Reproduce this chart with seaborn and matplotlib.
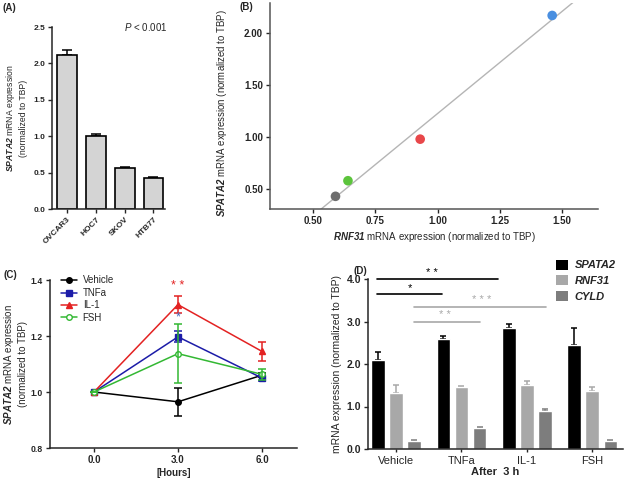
#!/usr/bin/env python3
"""Four-panel SPATA2 expression figure (A-D)."""
import matplotlib
matplotlib.use('Agg')
import matplotlib.pyplot as plt
from matplotlib.patches import Patch
import seaborn as sns
import numpy as np
import pandas as pd

# --- (A) cell lines
lines_a = ["OVCAR3", "HOC7", "SKOV", "HTB77"]
spata2_a = [2.11, 1.00, 0.57, 0.43]
err_a = [0.08, 0.03, 0.01, 0.01]

# --- (B) SPATA2 vs RNF31
rnf31_b = [1.46, 0.93, 0.64, 0.59]
spata2_b = [2.17, 0.98, 0.58, 0.43]
colors_b = ["#4a8fe0", "#e8474a", "#5cc43c", "#6e6e6e"]

# --- (C) time course
hours = [0.0, 3.0, 6.0]
treat_c = ["Vehicle", "TNFa", "IL-1", "FSH"]
mean_c = {"Vehicle": [1.0, 0.965, 1.06],
          "TNFa": [1.0, 1.197, 1.05],
          "IL-1": [1.0, 1.312, 1.145],
          "FSH": [1.0, 1.137, 1.063]}
err_c = {"Vehicle": [0.0, 0.05, 0.008],
         "TNFa": [0.0, 0.02, 0.01],
         "IL-1": [0.0, 0.03, 0.035],
         "FSH": [0.0, 0.105, 0.02]}
colors_c = {"Vehicle": "black", "TNFa": "#1c1ca8", "IL-1": "#e32222", "FSH": "#33b833"}
markers_c = {"Vehicle": "o", "TNFa": "s", "IL-1": "^", "FSH": "o"}

# --- (D) after 3 h
treat_d = ["Vehicle", "TNFa", "IL-1", "FSH"]
genes_d = ["SPATA2", "RNF31", "CYLD"]
mean_d = {"SPATA2": [2.09, 2.59, 2.84, 2.45],
          "RNF31": [1.32, 1.45, 1.50, 1.36],
          "CYLD": [0.20, 0.49, 0.89, 0.20]}
err_d = {"SPATA2": [0.19, 0.07, 0.11, 0.40],
         "RNF31": [0.18, 0.04, 0.09, 0.09],
         "CYLD": [0.02, 0.03, 0.06, 0.02]}
colors_d = {"SPATA2": "black", "RNF31": "#a8a8a8", "CYLD": "#7d7d7d"}
# (x0, x1, y, stars, star x, colour)
brackets_d = [(-0.29, 1.56, 4.0, "* *", 0.55, "black"),
              (-0.29, 0.70, 3.65, "*", 0.21, "black"),
              (0.276, 2.30, 3.35, "* * *", 1.31, "#a8a8a8"),
              (0.276, 1.29, 3.00, "* *", 0.75, "#a8a8a8")]

sns.set_style("ticks")
plt.rcParams['font.family'] = ['Liberation Sans', 'DejaVu Sans']
plt.rcParams['mathtext.fontset'] = 'custom'
plt.rcParams['mathtext.rm'] = 'Liberation Sans'
plt.rcParams['mathtext.it'] = 'Liberation Sans:italic'
plt.rcParams['mathtext.bf'] = 'Liberation Sans:bold'
plt.rcParams['mathtext.bfit'] = 'Liberation Sans:italic:bold'

W, H = 625, 482
fig = plt.figure(figsize=(W / 100, H / 100), dpi=100)


def px_axes(left, top, right, bottom):
    return fig.add_axes([left / W, 1 - bottom / H, (right - left) / W, (bottom - top) / H])


def style(ax, xsize=6, ysize=6, xbold=True, ybold=True):
    for s in ["top", "right"]:
        ax.spines[s].set_visible(False)
    for s in ["left", "bottom"]:
        ax.spines[s].set_linewidth(1.1)
    ax.tick_params(width=1.0, length=3, pad=2)
    ax.tick_params(axis="x", labelsize=xsize)
    ax.tick_params(axis="y", labelsize=ysize)
    if xbold:
        for t in ax.get_xticklabels():
            t.set_fontweight("bold")
    if ybold:
        for t in ax.get_yticklabels():
            t.set_fontweight("bold")


# ---------------- (A)
axA = px_axes(52, 27, 165, 209)
sns.barplot(x=lines_a, y=spata2_a, color="#d4d4d4", edgecolor="black",
            linewidth=1.2, width=0.68, ax=axA, zorder=2)
axA.errorbar(range(len(lines_a)), spata2_a, yerr=[np.zeros(4), err_a], fmt="none",
             ecolor="black", elinewidth=1.1, capsize=3.5, capthick=1.1, zorder=1)
axA.set_xlim(-0.53, 3.4)
axA.set_ylim(0, 2.5)
axA.set_yticks([0, 0.5, 1.0, 1.5, 2.0, 2.5])
axA.set_yticklabels(["0.0", "0.5", "1.0", "1.5", "2.0", "2.5"])
axA.set_ylabel("$\\mathbfit{SPATA2}$ mRNA expression\n(normalized to TBP)", fontsize=6.2, labelpad=4)
style(axA)
plt.setp(axA.get_xticklabels(), rotation=45, ha="right", rotation_mode="anchor")
fig.text(167 / W, 1 - 21 / H, "$\\it{P}$ < 0.001", ha="right", va="top", fontsize=7)

# ---------------- (B)
axB = px_axes(270, 3, 598, 209)
axB.set_xlim(0.327, 1.644)
axB.set_ylim(0.308, 2.29)
sns.regplot(x=rnf31_b, y=spata2_b, scatter=False, ci=None, truncate=False,
            line_kws={"color": "#b5b5b5", "lw": 1.0}, ax=axB)
sns.scatterplot(x=rnf31_b, y=spata2_b, hue=range(4), palette=colors_b, s=48,
                edgecolor="none", legend=False, ax=axB, zorder=3)
axB.set_xlim(0.327, 1.644)
axB.set_ylim(0.308, 2.29)
axB.set_xticks([0.5, 0.75, 1.0, 1.25, 1.5])
axB.set_xticklabels(["0.50", "0.75", "1.00", "1.25", "1.50"])
axB.set_yticks([0.5, 1.0, 1.5, 2.0])
axB.set_yticklabels(["0.50", "1.00", "1.50", "2.00"])
axB.spines["left"].set_color("#555555")
axB.spines["bottom"].set_color("#555555")
axB.set_xlabel("$\\mathbfit{RNF31}$ mRNA expression (normalized to TBP)", fontsize=7, labelpad=3)
axB.set_ylabel("$\\mathbfit{SPATA2}$ mRNA expression (normalized to TBP)", fontsize=6.9)
axB.yaxis.set_label_coords(-0.125, 0.465)
style(axB, xsize=7, ysize=7)

# ---------------- (C)
axC = px_axes(50, 280, 297, 448)
for t in treat_c:
    mfc = "white" if t == "FSH" else colors_c[t]
    sns.lineplot(x=hours, y=mean_c[t], color=colors_c[t], marker=markers_c[t],
                 markersize=4, markerfacecolor=mfc, markeredgecolor=colors_c[t],
                 markeredgewidth=1.0, lw=1.1, label=t, ax=axC)
    axC.errorbar(hours, mean_c[t], yerr=err_c[t], fmt="none", ecolor=colors_c[t],
                 elinewidth=1.1, capsize=3, capthick=1.1)
axC.text(3.0, 1.378, "* *", color="#e32222", ha="center", va="center", fontsize=9)
axC.text(3.0, 1.268, "*", color="#4a6fc0", ha="center", va="center", fontsize=9)
axC.set_xlim(-1.57, 7.25)
axC.set_ylim(0.8, 1.4)
axC.set_xticks(hours)
axC.set_xticklabels(["0.0", "3.0", "6.0"])
axC.set_yticks([0.8, 1.0, 1.2, 1.4])
axC.set_yticklabels(["0.8", "1.0", "1.2", "1.4"])
axC.set_xlabel("[Hours]", fontsize=7, fontweight="bold", labelpad=2)
axC.set_ylabel("$\\mathbfit{SPATA2}$ mRNA expression\n(normalized to TBP)", fontsize=7, labelpad=2)
axC.legend(loc="upper left", bbox_to_anchor=(0.03, 1.05), frameon=False, fontsize=7,
           handlelength=1.6, handletextpad=0.6, labelspacing=0.25, borderaxespad=0)
style(axC, xsize=7, ysize=6.2)

# ---------------- (D)
axD = px_axes(368, 279, 623, 449)
df_d = pd.DataFrame([(t, g, mean_d[g][i]) for g in genes_d for i, t in enumerate(treat_d)],
                    columns=["treat", "gene", "value"])
sns.barplot(data=df_d, x="treat", y="value", hue="gene", hue_order=genes_d, order=treat_d,
            palette=colors_d, width=0.83, gap=0.25, ax=axD, legend=False, zorder=2)
offs = np.array([-1, 0, 1]) * 0.83 / 3
for k, g in enumerate(genes_d):
    xs = np.arange(len(treat_d)) + offs[k]
    axD.errorbar(xs, mean_d[g], yerr=[np.zeros(4), err_d[g]], fmt="none",
                 ecolor=colors_d[g] if g != "SPATA2" else "black",
                 elinewidth=1.1, capsize=2.5, capthick=1.1, zorder=1)
for x0, x1, y, stars, sx, c in brackets_d:
    axD.plot([x0, x1], [y, y], color=c, lw=1.2, clip_on=False)
    axD.text(sx, y + 0.03, stars, color=c, ha="center", va="bottom",
             fontsize=8, clip_on=False)
axD.set_xlim(-0.43, 3.47)
axD.set_ylim(0, 4.0)
axD.set_yticks([0, 1, 2, 3, 4])
axD.set_yticklabels(["0.0", "1.0", "2.0", "3.0", "4.0"])
axD.set_xlabel("After  3 h", fontsize=8, fontweight="bold", labelpad=1)
axD.set_ylabel("mRNA expression (normalized to TBP)", fontsize=7.5, labelpad=3)
style(axD, xsize=8, ysize=7.5, xbold=False)
axD.tick_params(axis="x", length=2, pad=3)
handles = [Patch(facecolor=colors_d[g], edgecolor="none") for g in genes_d]
axD.legend(handles, genes_d, loc="upper left", bbox_to_anchor=(0.72, 1.14), frameon=False,
           prop={"family": "Liberation Sans", "weight": "bold", "style": "italic", "size": 8},
           handlelength=1.1, handleheight=1.0, handletextpad=0.6, labelspacing=0.45,
           borderaxespad=0)

# panel labels
for lab, x, y in [("(A)", 3, 3), ("(B)", 240, 2), ("(C)", 4, 270), ("(D)", 354, 266)]:
    fig.text(x / W, 1 - y / H, lab, fontsize=7, fontweight="bold", ha="left", va="top")

fig.savefig("out.png", dpi=100)
